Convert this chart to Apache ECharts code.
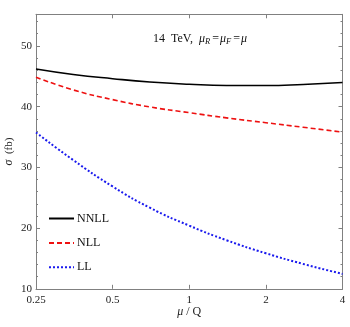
<!DOCTYPE html>
<html>
<head>
<meta charset="utf-8">
<script src="https://cdn.jsdelivr.net/npm/echarts@6/dist/echarts.min.js"></script>
<style>html,body{margin:0;padding:0;background:#fff}#c{width:350px;height:327px}</style>
</head>
<body>
<div id="c"></div>
<script>
// data
const muValues = [0.25, 0.35, 0.5, 0.7, 1, 1.4, 2, 2.8, 4];
const nnll = [46.2, 45.3, 44.6, 44.05, 43.68, 43.48, 43.47, 43.65, 43.96];
const nll  = [44.85, 42.75, 41.15, 39.95, 39.0, 38.15, 37.35, 36.6, 35.8];
const ll   = [35.75, 31.2, 26.85, 23.35, 20.4, 18.0, 15.85, 14.1, 12.45];
const xTickLabels = ['0.25', '0.5', '1', '2', '4'];
const yTickLabels = ['10', '20', '30', '40', '50'];
const seriesNames = ['NNLL', 'NLL', 'LL'];

const serif = 'Liberation Serif';
const axisColor = '#808080';
const pair = (ys) => muValues.map((m, i) => [m, ys[i]]);

const xLab = (v) => {
  const idx = [0.25, 0.5, 1, 2, 4].findIndex(t => Math.abs(t - v) < 1e-6);
  return idx >= 0 ? xTickLabels[idx] : '';
};
const yLab = (v) => {
  const idx = [10, 20, 30, 40, 50].indexOf(Math.round(v));
  return (idx >= 0 && Math.abs(v - Math.round(v)) < 1e-6) ? yTickLabels[idx] : '';
};

const baseX = {
  type: 'log', logBase: 2, min: 0.25, max: 4,
  axisLine: {show: true, lineStyle: {color: axisColor, width: 1}},
  axisTick: {show: true, inside: true, length: 4, lineStyle: {color: axisColor}},
  minorTick: {show: false},
  splitLine: {show: false}
};
const baseY = {
  type: 'value', min: 10, max: 55.2, interval: 10,
  axisLine: {show: true, lineStyle: {color: axisColor, width: 1}},
  axisTick: {show: true, inside: true, length: 4, lineStyle: {color: axisColor}},
  minorTick: {show: true, splitNumber: 5, length: 2, lineStyle: {color: axisColor}},
  splitLine: {show: false}
};

const chart = echarts.init(document.getElementById('c'), null, {renderer: 'canvas'});
chart.setOption({
  animation: false,
  backgroundColor: '#fff',
  grid: {left: 36, right: 7.5, top: 14.3, bottom: 38.2, containLabel: false, outerBoundsMode: 'none'},
  title: {
    left: 148, top: 26,
    text: '14  TeV,  {it|μ}{sub|R}{eq|=}{it|μ}{sub|F}{eq|=}{it|μ}',
    textStyle: {
      fontFamily: serif, fontSize: 12, fontWeight: 'normal', color: '#111',
      rich: {
        it: {fontFamily: serif, fontStyle: 'italic', fontSize: 12, color: '#111', lineHeight: 15},
        sub: {fontFamily: serif, fontStyle: 'italic', fontSize: 8.5, color: '#111', verticalAlign: 'bottom', lineHeight: 15, padding: [0, 1, 0, 0]},
        eq: {fontFamily: serif, fontSize: 12, color: '#111', lineHeight: 15, padding: [0, 1, 0, 1]}
      }
    }
  },
  legend: {
    orient: 'vertical', left: 43, top: 207.5,
    itemWidth: 25, itemHeight: 12, itemGap: 12.4,
    data: seriesNames,
    itemStyle: {opacity: 0},
    textStyle: {fontFamily: serif, fontSize: 12, color: '#111', padding: [0, 0, 0, -2]}
  },
  xAxis: [
    Object.assign({}, baseX, {
      position: 'bottom',
      axisLabel: {show: true, formatter: xLab, fontFamily: serif, fontSize: 11, color: '#222', margin: 6},
      name: '{it|μ} / Q', nameLocation: 'middle', nameGap: 17, nameMoveOverlap: false,
      nameTextStyle: {fontFamily: serif, fontSize: 12, color: '#222',
        rich: {it: {fontFamily: serif, fontStyle: 'italic', fontSize: 12, color: '#222'}}}
    }),
    Object.assign({}, baseX, {position: 'top', axisLabel: {show: false}})
  ],
  yAxis: [
    Object.assign({}, baseY, {
      position: 'left',
      axisLabel: {show: true, formatter: yLab, fontFamily: serif, fontSize: 11, color: '#222', margin: 4, showMaxLabel: false},
      name: '{it|σ}  (fb)', nameLocation: 'middle', nameGap: 21, nameRotate: 90, nameMoveOverlap: false,
      nameTextStyle: {fontFamily: serif, fontSize: 11, color: '#222',
        rich: {it: {fontFamily: serif, fontStyle: 'italic', fontSize: 12, color: '#222'}}}
    }),
    Object.assign({}, baseY, {position: 'right', axisLabel: {show: false}})
  ],
  series: [
    {name: seriesNames[0], type: 'line', smooth: 0.5, symbol: 'none', data: pair(nnll),
     lineStyle: {color: '#000', width: 1.6, type: 'solid'}, itemStyle: {color: '#000'}},
    {name: seriesNames[1], type: 'line', smooth: 0.5, symbol: 'none', data: pair(nll),
     lineStyle: {color: '#ee1111', width: 1.6, type: [5, 3]}, itemStyle: {color: '#ee1111'}},
    {name: seriesNames[2], type: 'line', smooth: 0.5, symbol: 'none', data: pair(ll),
     lineStyle: {color: '#1a1aee', width: 2, type: [2, 2]}, itemStyle: {color: '#1a1aee'}}
  ]
});
</script>
</body>
</html>
